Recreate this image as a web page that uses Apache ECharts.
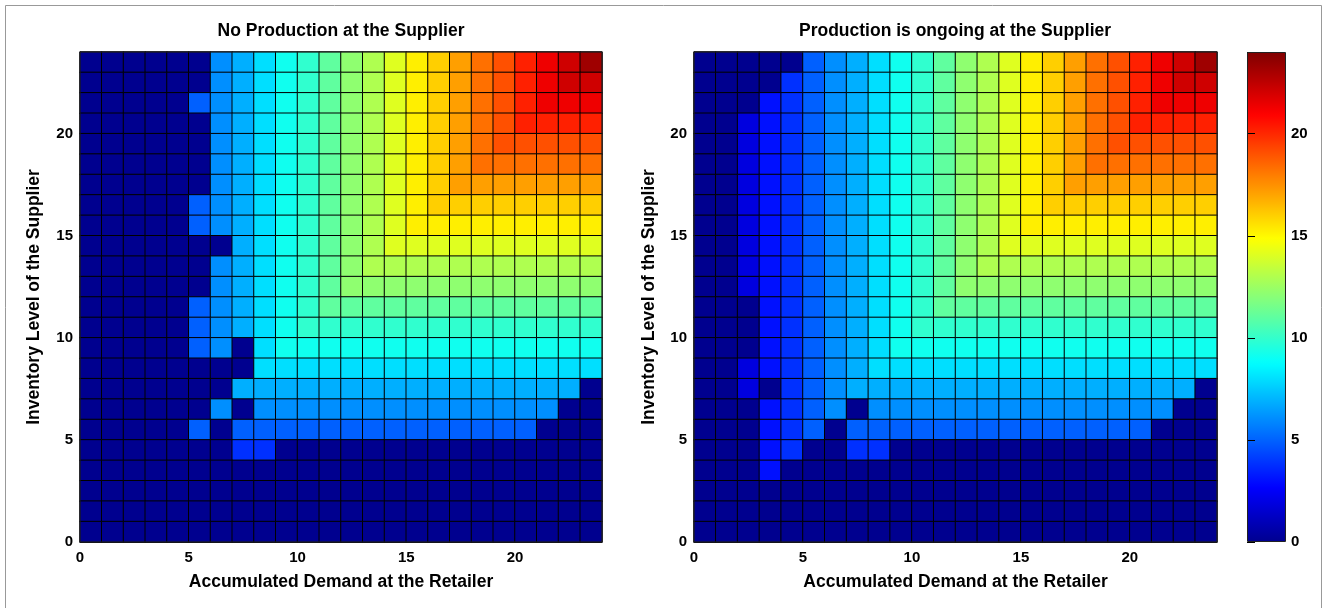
<!DOCTYPE html>
<html>
<head>
<meta charset="utf-8">
<script src="https://cdn.jsdelivr.net/npm/echarts@6/dist/echarts.min.js"></script>
<style>
html,body{margin:0;padding:0;background:#fff;}
#chart{width:1329px;height:608px;}
</style>
</head>
<body>
<div id="chart"></div>
<script>
// ---------------- data ----------------
const demandCategories = ['0','1','2','3','4','5','6','7','8','9','10','11','12','13','14','15','16','17','18','19','20','21','22','23'];
const inventoryCategories = ['0','1','2','3','4','5','6','7','8','9','10','11','12','13','14','15','16','17','18','19','20','21','22','23'];
const panelTitles = ['No Production at the Supplier', 'Production is ongoing at the Supplier'];
const xAxisName = 'Accumulated Demand at the Retailer';
const yAxisName = 'Inventory Level of the Supplier';
const axisRange = [0, 24];
const tickStep = 5;

// rows listed from the top (inventory 23) down to the bottom (inventory 0)
const noProductionRows = [
  [0,0,0,0,0,0,6,7,8,9,10,11,12,13,14,15,16,17,18,19,20,21,22,23],
  [0,0,0,0,0,0,6,7,8,9,10,11,12,13,14,15,16,17,18,19,20,21,22,22],
  [0,0,0,0,0,5,6,7,8,9,10,11,12,13,14,15,16,17,18,19,20,21,21,21],
  [0,0,0,0,0,0,6,7,8,9,10,11,12,13,14,15,16,17,18,19,20,20,20,20],
  [0,0,0,0,0,0,6,7,8,9,10,11,12,13,14,15,16,17,18,19,19,19,19,19],
  [0,0,0,0,0,0,6,7,8,9,10,11,12,13,14,15,16,17,18,18,18,18,18,18],
  [0,0,0,0,0,0,6,7,8,9,10,11,12,13,14,15,16,17,17,17,17,17,17,17],
  [0,0,0,0,0,5,6,7,8,9,10,11,12,13,14,15,16,16,16,16,16,16,16,16],
  [0,0,0,0,0,5,6,7,8,9,10,11,12,13,14,15,15,15,15,15,15,15,15,15],
  [0,0,0,0,0,0,0,7,8,9,10,11,12,13,14,14,14,14,14,14,14,14,14,14],
  [0,0,0,0,0,0,6,7,8,9,10,11,12,13,13,13,13,13,13,13,13,13,13,13],
  [0,0,0,0,0,0,6,7,8,9,10,11,12,12,12,12,12,12,12,12,12,12,12,12],
  [0,0,0,0,0,5,6,7,8,9,10,11,11,11,11,11,11,11,11,11,11,11,11,11],
  [0,0,0,0,0,5,6,7,8,9,10,10,10,10,10,10,10,10,10,10,10,10,10,10],
  [0,0,0,0,0,5,6,0,8,9,9,9,9,9,9,9,9,9,9,9,9,9,9,9],
  [0,0,0,0,0,0,0,0,8,8,8,8,8,8,8,8,8,8,8,8,8,8,8,8],
  [0,0,0,0,0,0,0,7,7,7,7,7,7,7,7,7,7,7,7,7,7,7,7,0],
  [0,0,0,0,0,0,6,0,6,6,6,6,6,6,6,6,6,6,6,6,6,6,0,0],
  [0,0,0,0,0,5,0,5,5,5,5,5,5,5,5,5,5,5,5,5,5,0,0,0],
  [0,0,0,0,0,0,0,4,4,0,0,0,0,0,0,0,0,0,0,0,0,0,0,0],
  [0,0,0,0,0,0,0,0,0,0,0,0,0,0,0,0,0,0,0,0,0,0,0,0],
  [0,0,0,0,0,0,0,0,0,0,0,0,0,0,0,0,0,0,0,0,0,0,0,0],
  [0,0,0,0,0,0,0,0,0,0,0,0,0,0,0,0,0,0,0,0,0,0,0,0],
  [0,0,0,0,0,0,0,0,0,0,0,0,0,0,0,0,0,0,0,0,0,0,0,0]
];

const ongoingProductionRows = [
  [0,0,0,0,0,5,6,7,8,9,10,11,12,13,14,15,16,17,18,19,20,21,22,23],
  [0,0,0,0,4,5,6,7,8,9,10,11,12,13,14,15,16,17,18,19,20,21,22,22],
  [0,0,0,3,4,5,6,7,8,9,10,11,12,13,14,15,16,17,18,19,20,21,21,21],
  [0,0,2,3,4,5,6,7,8,9,10,11,12,13,14,15,16,17,18,19,20,20,20,20],
  [0,0,2,3,4,5,6,7,8,9,10,11,12,13,14,15,16,17,18,19,19,19,19,19],
  [0,0,2,3,4,5,6,7,8,9,10,11,12,13,14,15,16,17,18,18,18,18,18,18],
  [0,0,2,3,4,5,6,7,8,9,10,11,12,13,14,15,16,17,17,17,17,17,17,17],
  [0,0,2,3,4,5,6,7,8,9,10,11,12,13,14,15,16,16,16,16,16,16,16,16],
  [0,0,2,3,4,5,6,7,8,9,10,11,12,13,14,15,15,15,15,15,15,15,15,15],
  [0,0,2,3,4,5,6,7,8,9,10,11,12,13,14,14,14,14,14,14,14,14,14,14],
  [0,0,2,3,4,5,6,7,8,9,10,11,12,13,13,13,13,13,13,13,13,13,13,13],
  [0,0,2,3,4,5,6,7,8,9,10,11,12,12,12,12,12,12,12,12,12,12,12,12],
  [0,0,0,3,4,5,6,7,8,9,10,11,11,11,11,11,11,11,11,11,11,11,11,11],
  [0,0,0,3,4,5,6,7,8,9,10,10,10,10,10,10,10,10,10,10,10,10,10,10],
  [0,0,0,3,4,5,6,7,8,9,9,9,9,9,9,9,9,9,9,9,9,9,9,9],
  [0,0,2,3,4,5,6,7,8,8,8,8,8,8,8,8,8,8,8,8,8,8,8,8],
  [0,0,2,0,4,5,6,7,7,7,7,7,7,7,7,7,7,7,7,7,7,7,7,0],
  [0,0,0,3,4,5,6,0,6,6,6,6,6,6,6,6,6,6,6,6,6,6,0,0],
  [0,0,0,3,4,5,0,5,5,5,5,5,5,5,5,5,5,5,5,5,5,0,0,0],
  [0,0,0,3,4,0,0,4,4,0,0,0,0,0,0,0,0,0,0,0,0,0,0,0],
  [0,0,0,3,0,0,0,0,0,0,0,0,0,0,0,0,0,0,0,0,0,0,0,0],
  [0,0,0,0,0,0,0,0,0,0,0,0,0,0,0,0,0,0,0,0,0,0,0,0],
  [0,0,0,0,0,0,0,0,0,0,0,0,0,0,0,0,0,0,0,0,0,0,0,0],
  [0,0,0,0,0,0,0,0,0,0,0,0,0,0,0,0,0,0,0,0,0,0,0,0]
];

// ---------------- colormap (MATLAB jet, 64 levels) ----------------
function jetColors(m) {
  const n = Math.ceil(m / 4);
  const u = [];
  for (let i = 1; i <= n; i++) u.push(i / n);
  for (let i = 1; i < n; i++) u.push(1);
  for (let i = n; i >= 1; i--) u.push(i / n);
  const off = Math.ceil(n / 2) - (m % 4 === 1 ? 1 : 0);
  const c = Array.from({length: m}, () => [0, 0, 0]);
  u.forEach((val, j) => {
    const g = off + j + 1, r = g + n, b = g - n;
    if (r >= 1 && r <= m) c[r - 1][0] = val;
    if (g >= 1 && g <= m) c[g - 1][1] = val;
    if (b >= 1 && b <= m) c[b - 1][2] = val;
  });
  return c.map(v => 'rgb(' + v.map(x => Math.round(x * 255)).join(',') + ')');
}
const jet = jetColors(64);
const pieces = jet.map((col, k) => {
  const lo = axisRange[0] + (axisRange[1] - axisRange[0]) * k / 64;
  const hi = axisRange[0] + (axisRange[1] - axisRange[0]) * (k + 1) / 64;
  return k === 63 ? {gte: lo, lte: hi + 1, color: col} : {gte: lo, lt: hi, color: col};
});

function toCells(rows) {
  const out = [];
  rows.forEach((row, k) => {
    const y = rows.length - 1 - k;
    row.forEach((v, x) => out.push([x, y, v]));
  });
  return out;
}

// ---------------- layout ----------------
const FONT = "'Liberation Sans', Arial, Helvetica, sans-serif";
const bar = {left: 1247, top: 52, width: 39, height: 490};
const tickLen = 4;
const grids = [
  {left: 80, top: 52, width: 522, height: 490, show: true},
  {left: 694, top: 52, width: 523, height: 490, show: true},
  // colour bar tick grid: inset by the tick length so outward ticks land on the bar
  {left: bar.left + tickLen, top: bar.top, width: bar.width - 2 * tickLen, height: bar.height, show: false}
];
const tickLabel = {fontFamily: FONT, fontWeight: 'bold', fontSize: 15, color: '#000'};
const nameStyle = {fontFamily: FONT, fontWeight: 'bold', fontSize: 17.5, color: '#000'};

function catAxis(g, data) {
  return {type: 'category', gridIndex: g, data: data, show: false};
}
function valX(g) {
  return {
    type: 'value', gridIndex: g, position: 'bottom', min: axisRange[0], max: axisRange[1], interval: tickStep,
    name: xAxisName, nameLocation: 'middle', nameGap: 31, nameTextStyle: nameStyle,
    axisLine: {show: true, onZero: false, lineStyle: {color: '#333', width: 1}},
    axisTick: {show: false}, splitLine: {show: false},
    axisLabel: Object.assign({margin: 8, showMaxLabel: false}, tickLabel)
  };
}
function valY(g, gap) {
  return {
    type: 'value', gridIndex: g, position: 'left', min: axisRange[0], max: axisRange[1], interval: tickStep,
    name: yAxisName, nameLocation: 'middle', nameGap: gap, nameRotate: 90, nameTextStyle: nameStyle,
    axisLine: {show: true, onZero: false, lineStyle: {color: '#333', width: 1}},
    axisTick: {show: false}, splitLine: {show: false},
    axisLabel: Object.assign({margin: 7, showMaxLabel: false}, tickLabel)
  };
}
function barTickAxis(pos, withLabels) {
  return {
    type: 'value', gridIndex: 2, position: pos, min: axisRange[0], max: axisRange[1], interval: tickStep, z: 20,
    axisLine: {show: false}, splitLine: {show: false},
    axisTick: {show: true, inside: false, length: tickLen, lineStyle: {color: '#000', width: 1}},
    axisLabel: withLabels ? Object.assign({margin: tickLen + 5, showMaxLabel: false}, tickLabel) : {show: false}
  };
}

const option = {
  animation: false,
  backgroundColor: '#fff',
  grid: grids.map(g => Object.assign({borderColor: '#222', borderWidth: 1, backgroundColor: 'transparent', z: 10, containLabel: false}, g)),
  xAxis: [
    catAxis(0, demandCategories),
    catAxis(1, demandCategories),
    valX(0),
    valX(1),
    {type: 'value', gridIndex: 2, min: 0, max: 1, show: false}
  ],
  yAxis: [
    catAxis(0, inventoryCategories),
    catAxis(1, inventoryCategories),
    valY(0, 37),
    valY(1, 36),
    barTickAxis('right', true),
    barTickAxis('left', false)
  ],
  visualMap: [
    {
      type: 'continuous', show: true, seriesIndex: 2, min: axisRange[0], max: axisRange[1], z: 1,
      orient: 'vertical', left: bar.left, top: bar.top, itemWidth: bar.width, itemHeight: bar.height, padding: 0,
      calculable: false, hoverLink: false, realtime: false, text: null, textStyle: {color: 'transparent'},
      inRange: {color: jet}
    },
    {
      type: 'piecewise', show: false, seriesIndex: [0, 1], pieces: pieces
    }
  ],
  graphic: [
    {type: 'rect', silent: true, z: 100, shape: {x: 5.5, y: 5.5, width: 1316, height: 700},
     style: {fill: 'none', stroke: '#999', lineWidth: 1}},
    {type: 'rect', silent: true, z: 100, shape: {x: bar.left + 0.5, y: bar.top + 0.5, width: bar.width - 1, height: bar.height - 1},
     style: {fill: 'none', stroke: '#222', lineWidth: 1}},
    {type: 'text', silent: true, z: 100, x: 341, y: 31,
     style: {text: panelTitles[0], textAlign: 'center', textVerticalAlign: 'middle', font: 'bold 17.5px ' + FONT, fill: '#000'}},
    {type: 'text', silent: true, z: 100, x: 955, y: 31,
     style: {text: panelTitles[1], textAlign: 'center', textVerticalAlign: 'middle', font: 'bold 17.5px ' + FONT, fill: '#000'}}
  ],
  series: [
    {type: 'heatmap', xAxisIndex: 0, yAxisIndex: 0, data: toCells(noProductionRows), progressive: 0, silent: true,
     itemStyle: {borderColor: '#000', borderWidth: 1}, emphasis: {disabled: true}},
    {type: 'heatmap', xAxisIndex: 1, yAxisIndex: 1, data: toCells(ongoingProductionRows), progressive: 0, silent: true,
     itemStyle: {borderColor: '#000', borderWidth: 1}, emphasis: {disabled: true}},
    {type: 'line', xAxisIndex: 4, yAxisIndex: 4, data: [], silent: true}
  ]
};

const chart = echarts.init(document.getElementById('chart'), null, {renderer: 'canvas'});
chart.setOption(option);
</script>
</body>
</html>
